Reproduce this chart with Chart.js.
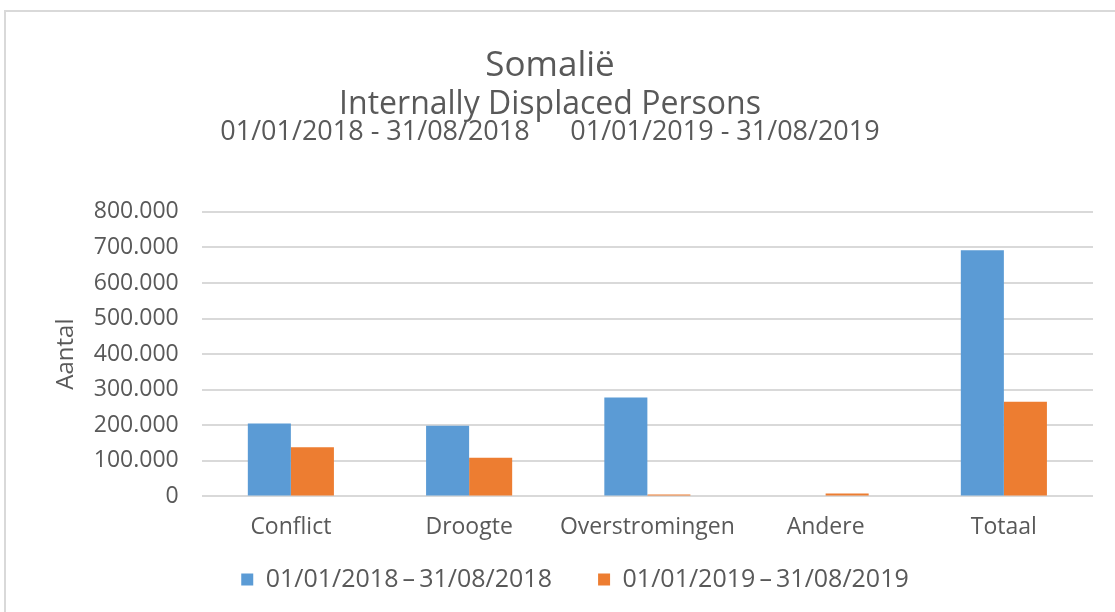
<!DOCTYPE html>
<html>
<head>
<meta charset="utf-8">
<script src="https://cdn.jsdelivr.net/npm/chart.js@4.4.0/dist/chart.umd.min.js"></script>
<style>
    html, body { margin: 0; padding: 0; background: #fff; overflow: hidden; }
    #frame {
        position: absolute; left: 4px; top: 10px; width: 1200px; height: 700px;
        border: 2px solid #d9d9d9; box-sizing: border-box;
    }
    #wrap { position: absolute; left: 1px; top: 0; width: 1086px; height: 590px; }
</style>
</head>
<body>
<div id="frame">
    <div id="wrap"><canvas id="idpChart"></canvas></div>
</div>
<script>
// categorieën en waarden
var categories = ['Conflict', 'Droogte', 'Overstromingen', 'Andere', 'Totaal'];
var seriesLabels = ['01/01/2018\u2009\u2013\u200931/08/2018', '01/01/2019\u2009\u2013\u200931/08/2019'];
var periods = ['01/01/2018 - 31/08/2018', '01/01/2019 - 31/08/2019'];
var values2018 = [205000, 199000, 278000, 0, 692000];
var values2019 = [138000, 109000, 5000, 8000, 266000];
var yTicks = [0, 100000, 200000, 300000, 400000, 500000, 600000, 700000, 800000];

var textColor = '#595959';
var fontFamily = '"Open Sans", sans-serif';

document.addEventListener('DOMContentLoaded', function () {
    // extra regel met de periodes onder de subtitel
    const periodLine = {
        id: 'periodLine',
        afterLayout: function (chart) {
            // legenda iets naar rechts, zoals in het origineel
            chart.legend.left += 25;
            chart.legend.right += 25;
        },
        afterDraw: function (chart) {
            const ctx = chart.ctx;
            const y = chart.chartArea.top - 80;
            ctx.save();
            ctx.font = '27px ' + fontFamily;
            ctx.fillStyle = textColor;
            ctx.textAlign = 'center';
            ctx.textBaseline = 'middle';
            ctx.fillText(periods[0], chart.width / 2 - 175, y);
            ctx.fillText(periods[1], chart.width / 2 + 175, y);
            ctx.restore();
        }
    };

    var ctx = document.getElementById('idpChart').getContext('2d');
    new Chart(ctx, {
        type: 'bar',
        data: {
            labels: categories,
            datasets: [{
                label: seriesLabels[0],
                data: values2018,
                backgroundColor: '#5B9BD5'
            }, {
                label: seriesLabels[1],
                data: values2019,
                backgroundColor: '#ED7D31'
            }]
        },
        options: {
            responsive: true,
            maintainAspectRatio: false,
            animation: false,
            layout: { padding: 0 },
            datasets: {
                bar: { categoryPercentage: 0.483, barPercentage: 1 }
            },
            scales: {
                x: {
                    grid: { display: false },
                    border: { display: false },
                    ticks: {
                        color: textColor,
                        font: { family: fontFamily, size: 23 },
                        padding: 9,
                        autoSkip: false,
                        maxRotation: 0,
                        minRotation: 0
                    }
                },
                y: {
                    min: 0,
                    max: 800000,
                    afterBuildTicks: function (axis) {
                        axis.ticks = yTicks.map(function (v) { return { value: v }; });
                    },
                    grid: { color: '#d9d9d9', lineWidth: 2, drawTicks: false },
                    border: { display: false },
                    ticks: {
                        color: textColor,
                        font: { family: fontFamily, size: 23 },
                        padding: 23,
                        autoSkip: false,
                        callback: function (v) { return v.toLocaleString('de-DE'); }
                    },
                    title: {
                        display: true,
                        text: 'Aantal',
                        color: textColor,
                        font: { family: fontFamily, size: 24 },
                        padding: { top: 45, bottom: -10 }
                    }
                }
            },
            plugins: {
                title: {
                    display: true,
                    text: 'Somalië',
                    color: textColor,
                    font: { family: fontFamily, size: 35, weight: 'normal', lineHeight: 1.1 },
                    padding: { top: 35, bottom: 0 }
                },
                subtitle: {
                    display: true,
                    text: 'Internally Displaced Persons',
                    color: textColor,
                    font: { family: fontFamily, size: 32 },
                    padding: { top: 0, bottom: 88 }
                },
                legend: {
                    position: 'bottom',
                    labels: {
                        color: textColor,
                        font: { family: fontFamily, size: 25 },
                        boxWidth: 12,
                        boxHeight: 12,
                        padding: 17,
                        generateLabels: function (chart) {
                            var items = Chart.defaults.plugins.legend.labels.generateLabels(chart);
                            // iets meer ruimte tussen de twee items
                            items[0].text = items[0].text + '\u2003\u2009';
                            return items;
                        }
                    }
                },
                tooltip: { enabled: false }
            }
        },
        plugins: [periodLine]
    });
});
</script>
</body>
</html>
